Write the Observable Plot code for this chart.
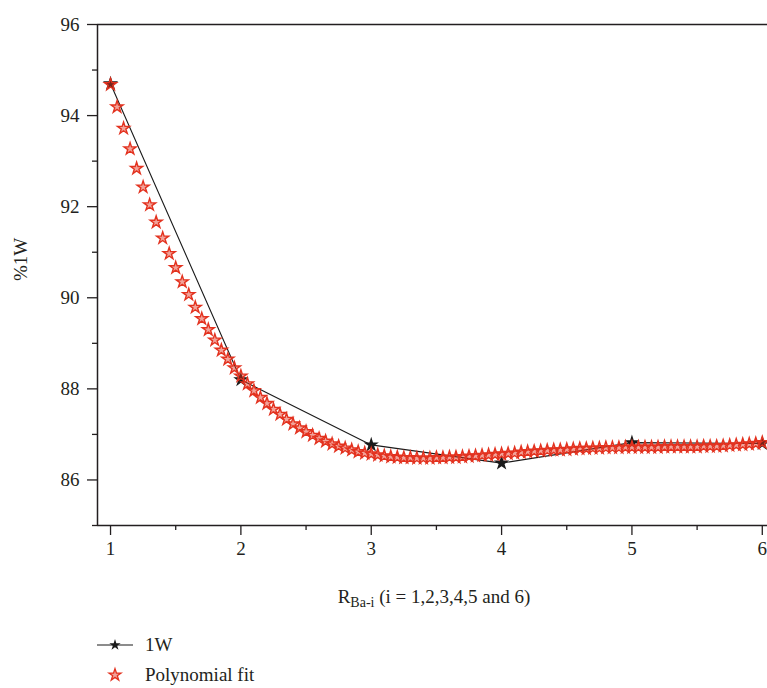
<!DOCTYPE html>
<html>
<head>
<meta charset="utf-8">
<script src="https://cdn.jsdelivr.net/npm/d3@7"></script>
<script src="https://cdn.jsdelivr.net/npm/@observablehq/plot@0.6"></script>
<style>
  body { margin: 0; background: #fff; }
  #wrap { position: relative; width: 767px; height: 688px; overflow: hidden;
          font-family: "Liberation Serif", "DejaVu Serif", serif; color: #231f20; }
  #xtitle { position: absolute; top: 586px; left: 434px; transform: translateX(-50%);
            font-size: 19px; white-space: nowrap; }
  #xtitle sub { font-size: 14px; vertical-align: -4px; }
  .leg { position: absolute; left: 97px; font-size: 19px; white-space: nowrap; display: flex; align-items: center; }
  .leg svg { margin-right: 12px; }
</style>
</head>
<body>
<div id="wrap"></div>
<script>
// 1W measured series
const ratios = [1, 2, 3, 4, 5, 6];
const w1 = [94.70, 88.20, 86.77, 86.37, 86.82, 86.80];

// Polynomial fit markers
const fitX = [1.00,1.05,1.10,1.15,1.20,1.25,1.30,1.35,1.40,1.45,1.50,1.55,1.60,1.65,1.70,1.75,1.80,1.85,1.90,1.95,
  2.00,2.05,2.10,2.15,2.20,2.25,2.30,2.35,2.40,2.45,2.50,2.55,2.60,2.65,2.70,2.75,2.80,2.85,2.90,2.95,
  3.00,3.05,3.10,3.15,3.20,3.25,3.30,3.35,3.40,3.45,3.50,3.55,3.60,3.65,3.70,3.75,3.80,3.85,3.90,3.95,
  4.00,4.05,4.10,4.15,4.20,4.25,4.30,4.35,4.40,4.45,4.50,4.55,4.60,4.65,4.70,4.75,4.80,4.85,4.90,4.95,
  5.00,5.05,5.10,5.15,5.20,5.25,5.30,5.35,5.40,5.45,5.50,5.55,5.60,5.65,5.70,5.75,5.80,5.85,5.90,5.95,6.00];
const fitY = [94.68,94.19,93.72,93.27,92.84,92.43,92.04,91.66,91.31,90.97,90.66,90.35,90.07,89.79,89.54,89.30,89.07,88.85,88.65,88.46,
  88.28,88.11,87.96,87.81,87.68,87.55,87.44,87.33,87.23,87.14,87.06,86.98,86.91,86.85,86.79,86.74,86.70,86.66,86.62,86.59,
  86.57,86.55,86.53,86.51,86.50,86.49,86.49,86.48,86.48,86.48,86.49,86.49,86.50,86.50,86.51,86.52,86.53,86.54,86.55,86.56,
  86.57,86.58,86.59,86.61,86.62,86.63,86.64,86.65,86.66,86.66,86.67,86.68,86.69,86.69,86.70,86.70,86.71,86.71,86.71,86.72,
  86.72,86.72,86.72,86.72,86.72,86.73,86.73,86.73,86.73,86.73,86.73,86.74,86.74,86.74,86.75,86.76,86.77,86.78,86.79,86.80,86.82];

// Tick values
const xMajor = [1, 2, 3, 4, 5, 6];
const xMinor = [1.5, 2.5, 3.5, 4.5, 5.5];
const yMajor = [86, 88, 90, 92, 94, 96];
const yMinor = [85, 87, 89, 91, 93, 95];

const measured = ratios.map((r, i) => ({x: r, y: w1[i]}));
const fit = fitX.map((x, i) => ({x, y: fitY[i]}));

const ink = "#231f20";
const red = "#e3321f";

const chart = Plot.plot({
  width: 767,
  height: 620,
  marginTop: 24,
  marginBottom: 95,
  marginLeft: 97,
  marginRight: 0,
  style: {fontFamily: "Liberation Serif, DejaVu Serif, serif", fontSize: "19px", color: ink, background: "#fff"},
  x: {domain: [0.9, 6.04]},
  y: {domain: [85, 96]},
  marks: [
    Plot.axisY(yMajor, {anchor: "left", tickSize: 10, tickPadding: 8, fontSize: 19, tickFormat: "d", label: null, stroke: ink, strokeWidth: 1.3}),
    Plot.axisY(yMinor, {anchor: "left", tickSize: 5, tickFormat: () => "", label: null, stroke: ink, strokeWidth: 1.3}),
    Plot.axisX(xMajor, {anchor: "bottom", tickSize: 10, tickPadding: 6, fontSize: 19, tickFormat: "d", label: null, stroke: ink, strokeWidth: 1.3}),
    Plot.axisX(xMinor, {anchor: "bottom", tickSize: 5, tickFormat: () => "", label: null, stroke: ink, strokeWidth: 1.3}),
    Plot.ruleX([0.9], {stroke: ink, strokeWidth: 1.5}),
    Plot.ruleY([85], {stroke: ink, strokeWidth: 1.5}),
    Plot.ruleY([96], {stroke: ink, strokeWidth: 1.5}),
    Plot.line(measured, {x: "x", y: "y", stroke: "#1a1a1a", strokeWidth: 1.1}),
    Plot.dot(measured, {x: "x", y: "y", symbol: "star", r: 4.8, fill: "#1a1a1a", stroke: "none"}),
    Plot.dot(fit, {x: "x", y: "y", symbol: "star", r: 3.8, fill: "rgba(227,50,31,0.45)", stroke: red, strokeWidth: 1.4}),
    Plot.text(["%1W"], {frameAnchor: "left", rotate: -90, dx: -77, dy: 6, fontSize: 19, fill: ink})
  ]
});

const wrap = document.getElementById("wrap");
wrap.appendChild(chart);

const xt = document.createElement("div");
xt.id = "xtitle";
xt.innerHTML = "R<sub>Ba-i</sub> (i = 1,2,3,4,5 and 6)";
wrap.appendChild(xt);

const starPath = (size) => d3.symbol(d3.symbolStar, size)();
function legendItem(top, svgInner, label) {
  const d = document.createElement("div");
  d.className = "leg";
  d.style.top = top + "px";
  d.innerHTML = `<svg width="36" height="20" viewBox="-18 -10 36 20">${svgInner}</svg><span>${label}</span>`;
  wrap.appendChild(d);
}
legendItem(634, `<line x1="-18" x2="18" y1="0" y2="0" stroke="#1a1a1a" stroke-width="1.2"/><path d="${starPath(40)}" fill="#1a1a1a"/>`, "1W");
legendItem(664, `<path d="${starPath(45)}" fill="rgba(227,50,31,0.45)" stroke="${red}" stroke-width="1.3"/>`, "Polynomial fit");
</script>
</body>
</html>
